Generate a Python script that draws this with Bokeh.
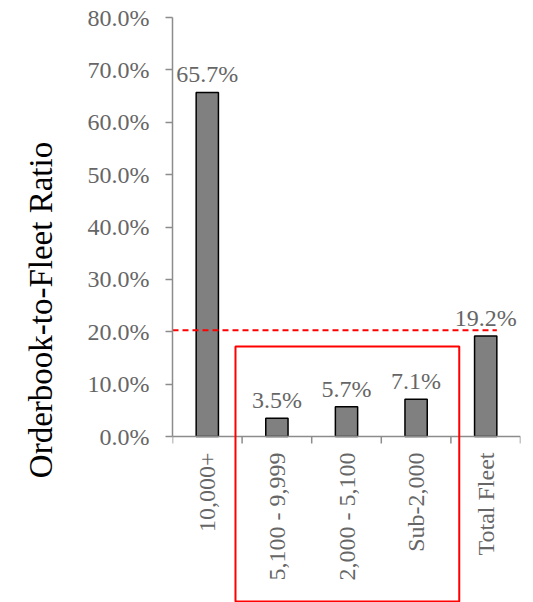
import math
from bokeh.plotting import figure
from bokeh.models import (ColumnDataSource, FixedTicker, PrintfTickFormatter,
                          BoxAnnotation, Range1d)
from bokeh.core.properties import value
from bokeh.embed import file_html
from bokeh.resources import INLINE

# ---- data ----
categories = ["10,000+", "5,100 - 9,999", "2,000 - 5,100", "Sub-2,000", "Total Fleet"]
ratios = [65.7, 3.5, 5.7, 7.1, 19.2]          # orderbook-to-fleet ratio, %
threshold = 20.3                               # red dashed reference level, %
y_ticks = [0, 10, 20, 30, 40, 50, 60, 70, 80]

FONT = "Liberation Serif"
GRAY_TXT = "#666666"
AXIS_C = "#8c8c8c"

# ---- layout constants (pixels) ----
W, H = 533, 602
TOP, LEFT, RIGHT = 17, 172, 13
AXIS_Y_PX = 436                     # pixel row of the 0% line
Y_MAX = 80
px_per_unit = (AXIS_Y_PX - TOP) / Y_MAX
y_start = -(H - AXIS_Y_PX) / px_per_unit   # extend frame to canvas bottom
TICK_LEN_PX = 7

n = len(categories)
centers = [i + 0.5 for i in range(n)]
bar_w = 0.32

src = ColumnDataSource(dict(
    x=centers, top=ratios, cat=categories,
    lbl=[f"{v:.1f}%" for v in ratios],
))

p = figure(width=W, height=H, output_backend="svg", toolbar_location=None,
           x_range=Range1d(0, n), y_range=Range1d(y_start, Y_MAX),
           x_axis_location=None,
           min_border_left=LEFT, min_border_right=RIGHT,
           min_border_top=TOP, min_border_bottom=0)
p.outline_line_color = None
p.xgrid.visible = False
p.ygrid.visible = False
p.background_fill_color = "white"
p.border_fill_color = "white"

# bars
p.vbar(x="x", top="top", width=bar_w, bottom=0, source=src,
       fill_color="#808080", line_color="black", line_width=1.5)

# value labels
p.text(x="x", y="top", text="lbl", source=src, text_align="center",
       text_baseline="alphabetic", y_offset=-18,
       text_font=value(FONT), text_font_size="24px", text_color=GRAY_TXT)

# hand-drawn category axis: line, boundary ticks, vertical labels
p.segment(x0=[0], y0=[0], x1=[n], y1=[0], line_color=AXIS_C, line_width=1.5)
bounds = list(range(n + 1))
p.segment(x0=bounds, y0=[0] * len(bounds), x1=bounds,
          y1=[-TICK_LEN_PX / px_per_unit] * len(bounds),
          line_color=AXIS_C, line_width=1.5)
p.text(x=centers, y=[0] * n, text=categories, angle=math.pi / 2,
       text_align="right", text_baseline="middle", y_offset=16,
       text_font=value(FONT), text_font_size="24px", text_color=GRAY_TXT)

# red dashed reference line
p.line(x=[0, centers[-1] + bar_w / 2], y=[threshold, threshold],
       line_color="red", line_width=2, line_dash="6 4")

# red highlight box around the mid-size categories
box = BoxAnnotation(left=0.905, right=4.12, top=17.2,
                    bottom=-(H - 1 - AXIS_Y_PX) / px_per_unit,
                    fill_alpha=0, line_color="red", line_alpha=1.0,
                    line_width=2, level="overlay")
p.add_layout(box)

# y axis
yax = p.yaxis[0]
yax.bounds = (0, Y_MAX)
yax.ticker = FixedTicker(ticks=y_ticks)
yax.formatter = PrintfTickFormatter(format="%.1f%%")
yax.axis_label = "Orderbook-to-Fleet Ratio"
yax.axis_label_text_font = FONT
yax.axis_label_text_font_size = "33px"
yax.axis_label_text_font_style = "normal"
yax.axis_label_text_color = "black"
yax.axis_label_standoff = 26
yax.major_label_text_font = FONT
yax.major_label_text_font_size = "24px"
yax.major_label_text_color = GRAY_TXT
yax.major_label_standoff = 16
yax.major_tick_out = TICK_LEN_PX
yax.major_tick_in = 0
yax.minor_tick_line_color = None
yax.axis_line_color = AXIS_C
yax.major_tick_line_color = AXIS_C
yax.axis_line_width = 1.5
yax.major_tick_line_width = 1.5

open("out.html", "w").write(file_html(p, INLINE))
